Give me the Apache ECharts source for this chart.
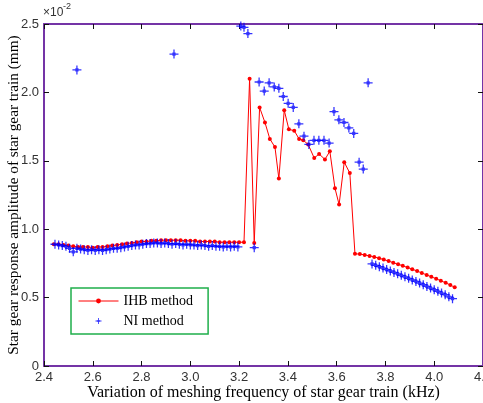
<!DOCTYPE html>
<html>
<head>
<meta charset="utf-8">
<script src="https://cdn.jsdelivr.net/npm/echarts@6/dist/echarts.min.js"></script>
<style>
html,body{margin:0;padding:0;background:#fff;}
#chart{width:483px;height:403px;}
</style>
</head>
<body>
<div id="chart"></div>
<script>
// Star gear response amplitude (×10^-2 mm) versus meshing frequency (kHz)

// IHB method: frequency points and amplitudes
const freqIHB = [
  2.44,2.46,2.48,2.50,2.52,2.54,2.56,2.58,2.60,2.62,2.64,2.66,2.68,2.70,2.72,2.74,2.76,2.78,2.80,2.82,
  2.84,2.86,2.88,2.90,2.92,2.94,2.96,2.98,3.00,3.02,3.04,3.06,3.08,3.10,3.12,3.14,3.16,3.18,3.20,3.22,
  3.243,3.262,3.284,3.306,3.326,3.347,3.363,3.385,3.404,3.426,3.446,3.463,3.483,3.508,3.528,3.552,
  3.572,3.593,3.610,3.631,3.654,3.675,
  3.695,3.715,3.735,3.754,3.774,3.793,3.813,3.832,3.852,3.871,3.891,3.910,3.930,3.949,3.969,3.988,
  4.008,4.027,4.047,4.066,4.084
];
const ampIHB = [
  0.89,0.89,0.885,0.88,0.875,0.87,0.87,0.87,0.865,0.87,0.87,0.875,0.88,0.885,0.89,0.895,0.90,0.905,0.91,0.91,
  0.915,0.915,0.92,0.92,0.92,0.92,0.92,0.915,0.915,0.915,0.91,0.91,0.91,0.91,0.905,0.905,0.905,0.905,0.905,0.905,
  2.10,0.90,1.89,1.78,1.66,1.60,1.37,1.87,1.73,1.72,1.66,1.65,1.62,1.52,1.55,1.51,
  1.57,1.30,1.18,1.49,1.41,0.82,
  0.818,0.812,0.805,0.797,0.788,0.778,0.767,0.755,0.744,0.732,0.720,0.707,0.694,0.680,0.666,0.652,
  0.638,0.623,0.608,0.592,0.575
];

// NI method: frequency points and amplitudes
const freqNI = [
  2.445,2.46,2.475,2.49,2.505,2.52,2.535,2.55,2.565,2.58,2.595,2.61,2.625,2.64,2.655,2.67,2.685,2.70,2.715,2.73,
  2.745,2.76,2.775,2.79,2.805,2.82,2.835,2.85,2.865,2.88,2.895,2.91,2.925,2.94,2.955,2.97,2.985,3.00,3.015,3.03,
  3.045,3.06,3.075,3.09,3.105,3.12,3.135,3.15,3.165,3.18,3.195,
  2.535,2.933,
  3.207,3.22,3.236,3.262,3.282,3.303,3.323,3.344,3.363,3.381,3.401,3.422,3.445,3.466,3.486,3.507,3.527,3.548,
  3.569,3.589,3.609,3.630,3.650,3.670,3.692,3.709,3.729,
  3.745,3.76,3.775,3.79,3.805,3.82,3.835,3.85,3.865,3.88,3.895,3.91,3.925,3.94,3.955,3.97,3.985,4.00,4.015,4.03,
  4.045,4.06,4.075
];
const ampNI = [
  0.89,0.885,0.88,0.875,0.86,0.835,0.86,0.855,0.85,0.845,0.85,0.845,0.85,0.845,0.85,0.855,0.86,0.86,0.865,0.87,
  0.875,0.88,0.885,0.885,0.89,0.895,0.895,0.90,0.90,0.895,0.90,0.895,0.89,0.895,0.89,0.885,0.89,0.885,0.885,0.88,
  0.885,0.88,0.875,0.88,0.875,0.875,0.87,0.875,0.87,0.875,0.87,
  2.164,2.28,
  2.485,2.476,2.43,0.865,2.076,2.01,2.07,2.04,2.03,1.97,1.92,1.89,1.77,1.68,1.62,1.65,1.65,1.65,
  1.63,1.86,1.80,1.78,1.74,1.70,1.49,1.44,2.07,
  0.746,0.736,0.726,0.716,0.705,0.695,0.684,0.674,0.663,0.652,0.641,0.629,0.618,0.606,0.594,0.582,0.570,0.558,0.546,0.533,
  0.521,0.506,0.492
];

const seriesNames = ['IHB method', 'NI method'];
const xTitle = 'Variation of meshing frequency of star gear train (kHz)';
const yTitle = 'Star gear response amplitude of star gear train (mm)';

const purple = '#7434a6';
const serif = '"Liberation Serif", "Times New Roman", serif';
const sans = '"Liberation Sans Narrow", "Liberation Sans", Arial, sans-serif';

// asterisk-like marker: plus bars with a solid centre
const starPath = 'path://M4.3 0L5.7 0L5.7 10L4.3 10Z M0 4.3L10 4.3L10 5.7L0 5.7Z M3.2 3.2L6.8 3.2L6.8 6.8L3.2 6.8Z';

const tickStyle = {show: true, inside: true, length: 5, lineStyle: {color: '#111', width: 1}};
const lineStyleAxis = {show: true, onZero: false, lineStyle: {color: purple, width: 2}};

const chart = echarts.init(document.getElementById('chart'), null, {renderer: 'canvas'});
chart.setOption({
  animation: false,
  backgroundColor: '#fff',
  grid: {left: 44, right: 0, top: 24, bottom: 37, containLabel: false, outerBoundsMode: 'none'},
  xAxis: [
    {
      type: 'value', position: 'bottom', min: 2.4, max: 4.2, interval: 0.2,
      axisLine: lineStyleAxis, axisTick: tickStyle, splitLine: {show: false},
      axisLabel: {formatter: v => v.toFixed(1), color: '#333', fontFamily: sans, fontSize: 13, margin: 5},
      name: xTitle, nameLocation: 'middle', nameGap: 19, nameMoveOverlap: false,
      nameTextStyle: {fontFamily: serif, fontSize: 16, color: '#000'}
    },
    {
      type: 'value', position: 'top', min: 2.4, max: 4.2, interval: 0.2,
      axisLine: lineStyleAxis, axisTick: tickStyle, splitLine: {show: false},
      axisLabel: {show: false}
    }
  ],
  yAxis: [
    {
      type: 'value', position: 'left', min: 0, max: 2.5, interval: 0.5,
      axisLine: lineStyleAxis, axisTick: tickStyle, splitLine: {show: false},
      axisLabel: {formatter: v => v === 0 ? '0' : v.toFixed(1), color: '#333', fontFamily: sans, fontSize: 13, margin: 5},
      name: yTitle, nameLocation: 'middle', nameGap: 23, nameRotate: 90, nameMoveOverlap: false,
      nameTextStyle: {fontFamily: serif, fontSize: 15.3, color: '#000'}
    },
    {
      type: 'value', position: 'right', min: 0, max: 2.5, interval: 0.5,
      axisLine: lineStyleAxis, axisTick: tickStyle, splitLine: {show: false},
      axisLabel: {show: false}
    }
  ],
  legend: {
    orient: 'vertical', left: 71, top: 288,
    padding: [5, 15, 5, 7], itemGap: 4, itemWidth: 40, itemHeight: 6,
    borderColor: '#1faf4b', borderWidth: 1.5, backgroundColor: '#fff',
    lineStyle: {width: 1},
    textStyle: {fontFamily: serif, fontSize: 14, color: '#000', lineHeight: 16},
    data: seriesNames
  },
  graphic: [
    {type: 'text', left: 43, top: 7, style: {text: '×10', font: '12px ' + sans, fill: '#333'}},
    {type: 'text', left: 63, top: 2, style: {text: '-2', font: '9px ' + sans, fill: '#333'}}
  ],
  series: [
    {
      name: seriesNames[0], type: 'line',
      data: freqIHB.map((f, i) => [f, ampIHB[i]]),
      symbol: 'circle', symbolSize: 4, showSymbol: true, showAllSymbol: true,
      lineStyle: {color: '#ff0000', width: 1},
      itemStyle: {color: '#ff0000'},
      z: 2
    },
    {
      name: seriesNames[1], type: 'scatter',
      data: freqNI.map((f, i) => [f, ampNI[i]]),
      symbol: starPath, symbolSize: 9,
      itemStyle: {color: '#0000ff'},
      z: 3
    }
  ]
});
</script>
</body>
</html>
